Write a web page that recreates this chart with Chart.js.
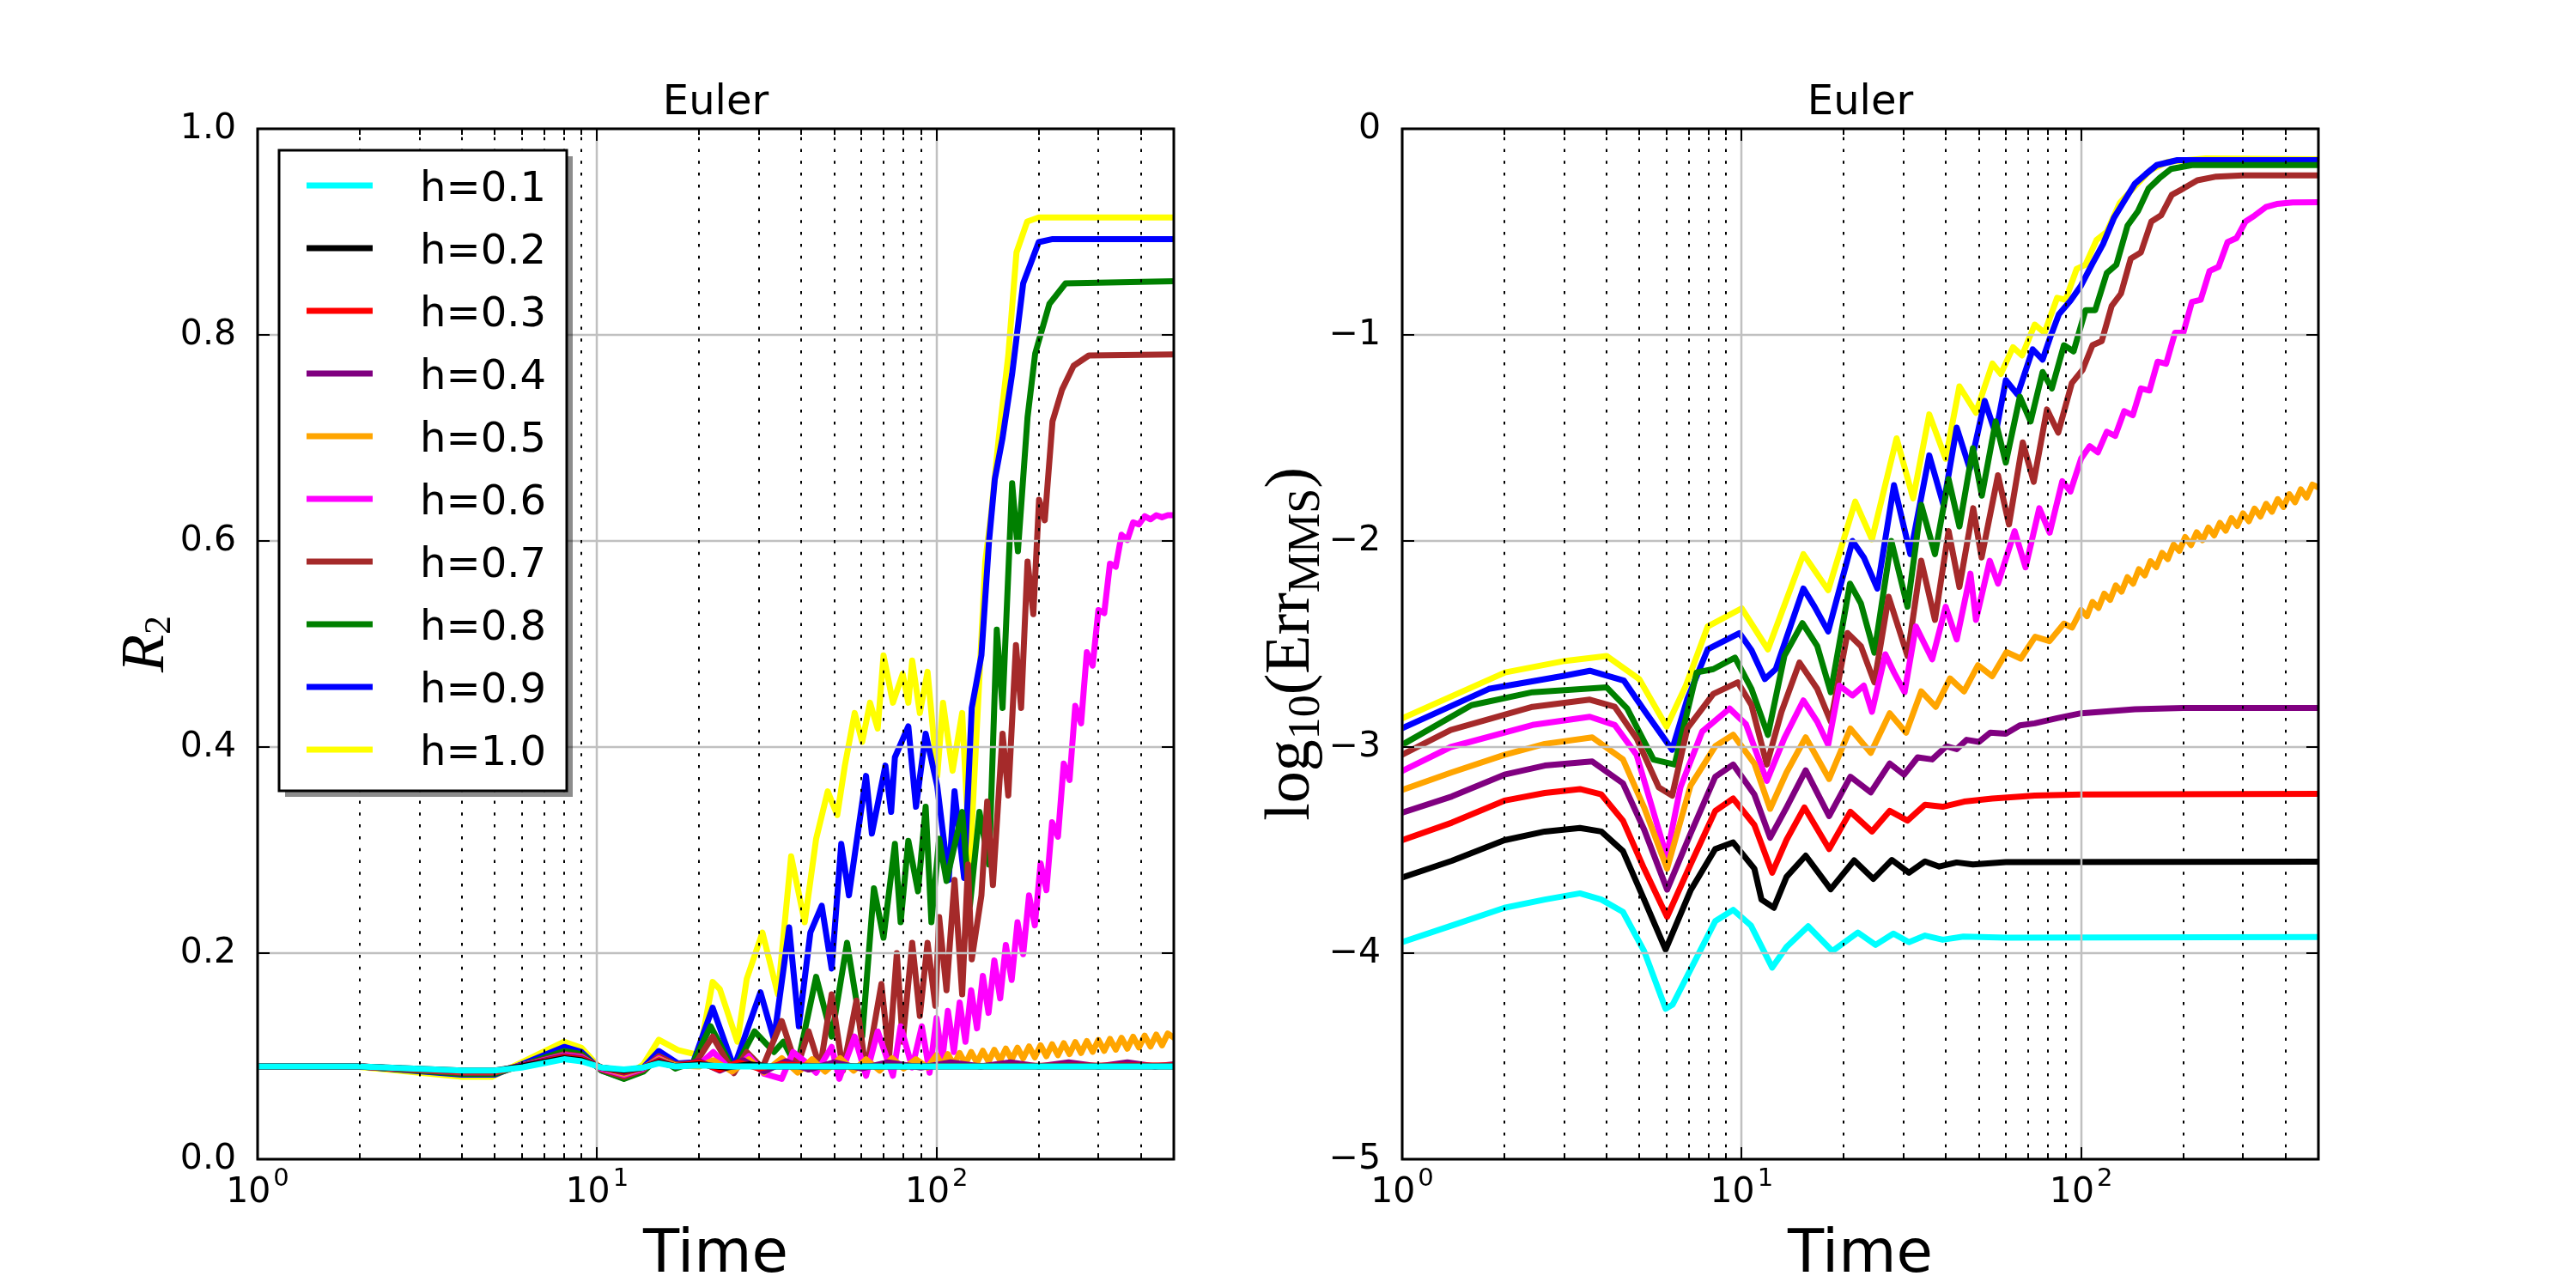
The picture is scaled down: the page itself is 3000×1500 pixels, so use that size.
<!DOCTYPE html>
<html>
<head>
<meta charset="utf-8">
<title>Euler</title>
<script src="https://cdn.jsdelivr.net/npm/chart.js@4.4.1/dist/chart.umd.min.js"></script>
<style>
  html, body { margin: 0; padding: 0; background: #fff; }
  #page { position: relative; width: 3000px; height: 1500px; }
  #page canvas { position: absolute; top: 0; }
</style>
</head>
<body>
<div id="page">
  <canvas id="r2Chart" width="1420" height="1500" style="left:0"></canvas>
  <canvas id="errChart" width="1580" height="1500" style="left:1420px"></canvas>
</div>
<script>
// --- series names and colours ---
const seriesLabels = ['h=0.1', 'h=0.2', 'h=0.3', 'h=0.4', 'h=0.5', 'h=0.6', 'h=0.7', 'h=0.8', 'h=0.9', 'h=1.0'];
const seriesColors = ['#00ffff', '#000000', '#ff0000', '#800080', '#ffa500', '#ff00ff', '#a52a2a', '#008000', '#0000ff', '#ffff00'];

// --- time axis ticks ---
const timeMajor = [1, 10, 100];
const timeMajorExp = ['0', '1', '2'];
const timeMinor = [2, 3, 4, 5, 6, 7, 8, 9, 20, 30, 40, 50, 60, 70, 80, 90, 200, 300, 400];

// --- left panel: R2 ---
const r2Time_h01 = [1, 2, 4, 5, 6, 8, 9, 10.3, 12, 13.7, 15.2, 17, 20, 25, 40, 500];
const r2_h01 = [0.090, 0.090, 0.086, 0.086, 0.089, 0.097, 0.095, 0.089, 0.087, 0.089, 0.093, 0.090, 0.091, 0.090, 0.090, 0.090];

const r2Time_h02 = [1, 2, 4, 5, 6, 8, 9, 10.3, 12, 13.7, 15.2, 17, 20, 24, 28, 32, 500];
const r2_h02 = [0.090, 0.090, 0.086, 0.086, 0.090, 0.098, 0.096, 0.089, 0.086, 0.089, 0.094, 0.090, 0.092, 0.089, 0.092, 0.090, 0.090];

const r2Time_h03 = [1, 2, 4, 5, 6, 8, 9, 10.3, 12, 13.7, 15.2, 17, 20, 23, 26, 30, 35, 45, 500];
const r2_h03 = [0.090, 0.090, 0.085, 0.085, 0.090, 0.099, 0.097, 0.089, 0.085, 0.089, 0.095, 0.090, 0.094, 0.087, 0.094, 0.088, 0.092, 0.090, 0.091];

const r2Time_h04 = [1, 2, 4, 5, 6, 8, 9, 10.3, 12, 13.7, 15.2, 17, 20, 23, 27, 31, 36, 42, 50, 60, 72, 90, 110, 135, 165, 200, 245, 300, 365, 440, 500];
const r2_h04 = [0.090, 0.090, 0.085, 0.085, 0.091, 0.100, 0.098, 0.089, 0.084, 0.089, 0.096, 0.090, 0.095, 0.086, 0.096, 0.085, 0.095, 0.087, 0.094, 0.088, 0.094, 0.089, 0.094, 0.090, 0.094, 0.090, 0.094, 0.090, 0.094, 0.090, 0.092];

const r2Time_h05 = [1, 2, 4, 5, 6, 8, 9, 10.3, 12, 13.7, 15.2, 17, 20, 22, 25, 28, 31, 35, 39, 43, 47, 52, 57, 62, 68, 74, 80, 87, 94,
  100, 104, 108, 112.5, 117, 121.7, 126.5, 131.6, 136.9, 142.3, 148, 154, 160, 166.5, 173.2, 180, 187.3, 194.8, 202.6, 210.7,
  219, 227.9, 237, 246.5, 256.3, 266.6, 277.2, 288.3, 299.9, 311.9, 324.3, 337.3, 350.8, 364.8, 379.4, 394.6, 410.4, 426.8, 443.8, 461.6, 480, 500];
const r2_h05 = [0.090, 0.090, 0.085, 0.085, 0.091, 0.100, 0.098, 0.089, 0.083, 0.089, 0.097, 0.091, 0.090, 0.096, 0.085, 0.097, 0.084, 0.098, 0.084, 0.097, 0.085, 0.098, 0.086, 0.097, 0.086, 0.098, 0.088, 0.097, 0.089,
  0.101, 0.0905, 0.102, 0.0916, 0.1031, 0.0926, 0.1041, 0.0937, 0.1052, 0.0947, 0.1062, 0.0958, 0.1073, 0.0968, 0.1083, 0.0979, 0.1094, 0.0989, 0.1105, 0.1000,
  0.1115, 0.1010, 0.1125, 0.1021, 0.1136, 0.1031, 0.1146, 0.1042, 0.1157, 0.1052, 0.1167, 0.1063, 0.1178, 0.1073, 0.1188, 0.1084, 0.1199, 0.1094, 0.1209, 0.1105, 0.1220, 0.1180];

const r2Time_h06 = [1, 2, 4, 5, 6, 8, 9, 10.3, 12, 13.7, 15.2, 17, 20, 22, 25, 28, 31, 35, 37.8, 40.9, 44.2, 49.1, 51.7, 57.4, 62, 67.1, 74.4, 78.4, 84.8, 90.5, 95.4,
  100, 104, 108, 112.5, 117, 121.7, 126.5, 131.6, 136.9, 142.3, 148, 154, 160, 166.5, 173.2, 180, 187.3, 194.8, 202.6, 210.7,
  219, 227.9, 237, 246.5, 256.3, 266.6, 277.2, 288.3, 299.9, 311.9, 324.3, 337.3, 350.8, 364.8, 379.4, 394.6, 410.4, 426.8, 443.8, 461.6, 480, 500];
const r2_h06 = [0.090, 0.090, 0.085, 0.085, 0.091, 0.101, 0.099, 0.088, 0.082, 0.088, 0.098, 0.090, 0.092, 0.104, 0.085, 0.100, 0.083, 0.078, 0.104, 0.095, 0.084, 0.109, 0.078, 0.119, 0.081, 0.124, 0.081, 0.129, 0.089, 0.129, 0.084,
  0.137, 0.096, 0.144, 0.104, 0.152, 0.114, 0.164, 0.127, 0.178, 0.142, 0.193, 0.156, 0.208, 0.174, 0.230, 0.199, 0.256, 0.227, 0.287, 0.261,
  0.327, 0.313, 0.384, 0.368, 0.440, 0.423, 0.492, 0.479, 0.533, 0.530, 0.578, 0.575, 0.606, 0.601, 0.618, 0.616, 0.624, 0.621, 0.625, 0.623, 0.625, 0.625];

const r2Time_h07 = [1, 2, 4, 5, 6, 8, 9, 10.3, 12, 13.7, 15.2, 17, 19.5, 21.9, 25.3, 27.6, 30.7, 35, 38.8, 42, 45.4, 49.1, 53, 58.1, 62, 68.8, 72.5, 76.4, 79.5, 84.8,
  89.3, 94.1, 99.2, 101.8, 107, 113, 119, 123.8, 127, 135.6, 141, 146.6, 156.5, 162.7, 171.4, 177.5, 185.4, 192.8, 200.5, 208.4, 219.6, 234.4, 253.4, 281, 500];
const r2_h07 = [0.090, 0.090, 0.084, 0.084, 0.091, 0.102, 0.100, 0.087, 0.080, 0.087, 0.100, 0.092, 0.093, 0.119, 0.0835, 0.104, 0.0886, 0.134, 0.0886, 0.124, 0.0886, 0.160, 0.086, 0.154, 0.084, 0.170, 0.099, 0.200, 0.114, 0.210,
  0.139, 0.210, 0.149, 0.235, 0.164, 0.271, 0.160, 0.286, 0.194, 0.256, 0.347, 0.266, 0.413, 0.353, 0.499, 0.438, 0.580, 0.529, 0.640, 0.620, 0.716, 0.747, 0.770, 0.780, 0.781];

const r2Time_h08 = [1, 2, 4, 5, 6, 8, 9, 10.3, 12, 13.7, 15.2, 17, 19.2, 21.6, 25.3, 29.1, 33.2, 35.4, 38.8, 44.2, 49.1, 54.5, 60.4, 65.4, 69.8, 75.4, 78.4, 82.6, 88.2, 92.9,
  96.6, 101.8, 107, 119, 125.4, 133.8, 142.8, 150.5, 156.5, 167, 173.7, 185.4, 195.3, 215, 240, 500];
const r2_h08 = [0.090, 0.090, 0.083, 0.083, 0.091, 0.105, 0.102, 0.086, 0.078, 0.085, 0.099, 0.088, 0.094, 0.129, 0.086, 0.124, 0.104, 0.114, 0.089, 0.177, 0.119, 0.210, 0.119, 0.263, 0.215, 0.306, 0.230, 0.309, 0.260, 0.342,
  0.230, 0.311, 0.270, 0.337, 0.246, 0.337, 0.286, 0.514, 0.438, 0.656, 0.590, 0.720, 0.782, 0.830, 0.850, 0.852];

const r2Time_h09 = [1, 2, 4, 5, 6, 8, 9, 10.3, 12, 13.7, 15.2, 17.3, 19.2, 21.9, 25.3, 30.3, 33.2, 36.8, 39.3, 42.5, 45.9, 49.1, 52.4, 55.2, 62, 64.5, 70.7, 73.5, 75.4, 82.6,
  87, 92.9, 100.5, 108.6, 113, 120.6, 127, 135.6, 142.8, 148.5, 156.5, 167, 180, 200, 220, 500];
const r2_h09 = [0.090, 0.090, 0.082, 0.082, 0.092, 0.109, 0.104, 0.086, 0.0785, 0.089, 0.105, 0.093, 0.094, 0.147, 0.089, 0.162, 0.116, 0.225, 0.129, 0.220, 0.246, 0.185, 0.306, 0.256, 0.372, 0.316, 0.382, 0.337, 0.390, 0.420,
  0.342, 0.413, 0.362, 0.271, 0.357, 0.273, 0.438, 0.489, 0.600, 0.660, 0.700, 0.762, 0.850, 0.890, 0.893, 0.893];

const r2Time_h10 = [1, 1.93, 4, 4.9, 6, 8, 9, 10.3, 12.1, 13.7, 15.2, 17.3, 20, 21.9, 23, 25.9, 27.6, 30.7, 34.1, 37.3, 40.9, 44.2, 47.8, 51, 53.7, 57.4, 60.4, 63.7, 67.1, 69.8,
  74.4, 79.5, 82.6, 84.8, 89.3, 94.1, 100.5, 104.5, 111.5, 119, 125.4, 133.8, 139.2, 144.7, 152.5, 162.7, 172, 185, 200, 500];
const r2_h10 = [0.090, 0.090, 0.080, 0.080, 0.094, 0.114, 0.108, 0.087, 0.080, 0.092, 0.116, 0.106, 0.101, 0.172, 0.165, 0.114, 0.175, 0.220, 0.160, 0.294, 0.230, 0.311, 0.357, 0.334, 0.382, 0.433, 0.405, 0.443, 0.418, 0.489,
  0.443, 0.471, 0.443, 0.484, 0.433, 0.473, 0.372, 0.443, 0.377, 0.433, 0.286, 0.468, 0.580, 0.625, 0.700, 0.780, 0.880, 0.910, 0.914, 0.914];

// --- right panel: log10(Err_MMS) ---
const errTime_h01 = [1, 1.4, 2, 2.63, 3.34, 3.86, 4.47, 5.16, 5.97, 6.26, 7.07, 8.36, 9.44, 10.65, 12.3, 13.56, 15.7, 18.5, 22, 24.8, 28, 31.1, 34.7, 39.1, 45, 60, 500];
const err_h01 = [-3.947, -3.866, -3.78, -3.74, -3.71, -3.74, -3.80, -3.99, -4.27, -4.25, -4.08, -3.845, -3.79, -3.866, -4.07, -3.97, -3.87, -3.99, -3.90, -3.96, -3.905, -3.947, -3.915, -3.935, -3.92, -3.925, -3.922];

const errTime_h02 = [1, 1.4, 2, 2.63, 3.34, 3.86, 4.47, 5.16, 5.97, 7.07, 8.36, 9.44, 10.9, 11.44, 12.44, 13.56, 15.44, 18.29, 21.45, 24.42, 27.7, 31.1, 34.7, 38.2, 43, 48, 60, 500];
const err_h02 = [-3.633, -3.552, -3.452, -3.41, -3.393, -3.41, -3.505, -3.74, -3.983, -3.696, -3.495, -3.463, -3.59, -3.74, -3.78, -3.63, -3.527, -3.69, -3.55, -3.64, -3.548, -3.61, -3.555, -3.58, -3.56, -3.57, -3.558, -3.556];

const errTime_h03 = [1, 1.4, 2, 2.63, 3.34, 3.86, 4.47, 5.16, 6.03, 7.07, 8.36, 9.44, 10.9, 12.3, 13.56, 15.3, 18.1, 20.9, 24.2, 27.3, 30.8, 34.7, 39.1, 45.2, 54.7, 73, 100, 500];
const err_h03 = [-3.452, -3.367, -3.26, -3.223, -3.204, -3.23, -3.357, -3.59, -3.824, -3.57, -3.31, -3.25, -3.378, -3.61, -3.45, -3.293, -3.495, -3.314, -3.41, -3.31, -3.357, -3.28, -3.29, -3.265, -3.25, -3.235, -3.23, -3.227];

const errTime_h04 = [1, 1.4, 2, 2.63, 3.63, 4.47, 5.16, 6.03, 7.07, 8.36, 9.44, 10.9, 12.13, 13.56, 15.44, 18.1, 20.9, 24, 27.3, 30.1, 33, 36.4, 40.1, 43, 46, 50, 54, 60, 66, 73, 85, 100, 144, 200, 500];
const err_h04 = [-3.318, -3.24, -3.134, -3.09, -3.07, -3.176, -3.40, -3.692, -3.42, -3.144, -3.085, -3.23, -3.44, -3.293, -3.113, -3.335, -3.144, -3.22, -3.08, -3.134, -3.05, -3.06, -2.996, -3.01, -2.965, -2.975, -2.93, -2.935, -2.895, -2.885, -2.86, -2.836, -2.817, -2.81, -2.81];

const errTime_h05 = [1, 1.4, 2, 2.63, 3.63, 4.47, 5.16, 6.03, 7.07, 8.36, 9.44, 10.9, 12.13, 13.56, 15.44, 18.1, 20.9, 24, 27.3, 30.5, 33.8, 37.3, 41.1, 45.2, 49.7, 54.7, 60.3, 66.4, 73.2, 80.7, 89, 94,
  100, 104, 108, 112.5, 117, 121.7, 126.5, 131.6, 136.9, 142.3, 148, 154, 160, 166.5, 173.2, 180, 187.3, 194.8, 202.6, 210.7,
  219, 227.9, 237, 246.5, 256.3, 266.6, 277.2, 288.3, 299.9, 311.9, 324.3, 337.3, 350.8, 364.8, 379.4, 394.6, 410.4, 426.8, 443.8, 461.6, 480, 500];
const err_h05 = [-3.208, -3.123, -3.038, -2.985, -2.953, -3.06, -3.293, -3.59, -3.187, -2.996, -2.94, -3.08, -3.30, -3.123, -2.953, -3.155, -2.91, -3.028, -2.836, -2.93, -2.73, -2.805, -2.667, -2.73, -2.603, -2.656, -2.539, -2.571, -2.465, -2.486, -2.401, -2.42,
  -2.335, -2.365, -2.296, -2.325, -2.256, -2.286, -2.216, -2.246, -2.176, -2.207, -2.137, -2.167, -2.098, -2.127, -2.058, -2.088, -2.018, -2.048, -1.981, -2.020,
  -1.958, -1.996, -1.935, -1.973, -1.912, -1.950, -1.889, -1.927, -1.866, -1.904, -1.843, -1.881, -1.820, -1.858, -1.797, -1.835, -1.773, -1.812, -1.750, -1.789, -1.727, -1.740];

const errTime_h06 = [1, 1.39, 2.42, 3.57, 4.23, 4.9, 6.01, 6.6, 7.65, 9.21, 10.3, 11.86, 13.36, 15.2, 16.7, 17.98, 19.4, 21.2, 22.9, 24.2, 26.5, 28.1, 30.2, 32.6, 36.4, 39.9, 43, 47.2, 49, 53.8,
  56.9, 63.7, 68.6, 75.3, 80.8, 88, 93, 100, 106, 112, 119, 126, 134, 142, 150, 159, 168, 178, 189, 200, 212, 225, 239, 254, 270, 287, 305, 325, 350, 377, 420, 500];
const err_h06 = [-3.116, -3.0, -2.893, -2.853, -2.893, -3.037, -3.531, -3.196, -2.925, -2.813, -2.89, -3.164, -2.957, -2.774, -2.877, -2.989, -2.702, -2.75, -2.702, -2.829, -2.55, -2.638, -2.734, -2.415, -2.574, -2.319, -2.478, -2.159, -2.383, -2.096,
  -2.207, -1.952, -2.128, -1.841, -1.96, -1.71, -1.76, -1.60, -1.54, -1.57, -1.47, -1.49, -1.37, -1.39, -1.26, -1.27, -1.13, -1.14, -0.99, -0.99, -0.84, -0.83, -0.69, -0.67, -0.55, -0.53, -0.45, -0.42, -0.38, -0.365, -0.357, -0.356];

const errTime_h07 = [1, 1.39, 2.42, 3.57, 4.23, 4.9, 5.7, 6.24, 6.92, 8.25, 9.74, 10.69, 11.86, 13.1, 14.8, 16.7, 18.3, 20.5, 22.45, 24.6, 27.1, 30.8, 33.8, 37.1, 40.7, 43.8, 48.1, 50.9, 56.9, 61.3,
  67.3, 72.5, 79.3, 85.6, 93.9, 101, 108, 115, 123, 131, 140, 150, 161, 172, 185, 200, 220, 250, 300, 500];
const err_h07 = [-3.037, -2.917, -2.805, -2.77, -2.805, -2.957, -3.196, -3.236, -2.909, -2.742, -2.686, -2.797, -3.085, -2.829, -2.59, -2.718, -2.877, -2.447, -2.51, -2.686, -2.271, -2.558, -2.096, -2.383, -1.952, -2.223, -1.841, -2.08, -1.681, -1.92,
  -1.522, -1.713, -1.362, -1.474, -1.234, -1.17, -1.05, -1.03, -0.86, -0.80, -0.63, -0.60, -0.45, -0.42, -0.32, -0.29, -0.25, -0.232, -0.226, -0.226];

const errTime_h08 = [1, 1.6, 2.42, 4.0, 4.6, 5.5, 6.35, 7.37, 8.25, 9.56, 10.69, 11.95, 13.36, 15.1, 16.7, 18.3, 20.85, 22.45, 24.6, 27.6, 30.8, 33.8, 37.1, 40.7, 43.8, 48, 51, 56, 60, 66,
  71, 77, 82, 89, 95, 103, 110, 119, 127, 137, 147, 158, 170, 184, 212, 500];
const err_h08 = [-2.989, -2.797, -2.734, -2.71, -2.813, -3.061, -3.085, -2.638, -2.622, -2.566, -2.718, -2.941, -2.558, -2.399, -2.51, -2.734, -2.207, -2.303, -2.542, -2.0, -2.319, -1.825, -2.064, -1.70, -1.93, -1.55, -1.78, -1.42, -1.62, -1.30,
  -1.42, -1.18, -1.26, -1.05, -1.08, -0.88, -0.88, -0.70, -0.66, -0.47, -0.40, -0.29, -0.24, -0.195, -0.176, -0.176];

const errTime_h09 = [1, 1.8, 3.0, 3.57, 4.5, 5.2, 6.24, 6.92, 7.94, 9.85, 10.69, 11.7, 12.6, 15.2, 16.4, 17.98, 21.2, 22.9, 25.1, 28.1, 31.4, 35.7, 39.3, 43, 47, 52, 56, 60, 65, 72,
  77, 81, 86, 93, 100, 108, 116, 125, 134, 144, 155, 167, 192, 500];
const err_h09 = [-2.909, -2.718, -2.654, -2.63, -2.678, -2.829, -3.013, -2.766, -2.526, -2.447, -2.53, -2.67, -2.622, -2.231, -2.319, -2.439, -2.0, -2.08, -2.231, -1.729, -2.064, -1.585, -1.825, -1.45, -1.65, -1.32, -1.48, -1.22, -1.29, -1.07,
  -1.12, -1.014, -0.90, -0.834, -0.76, -0.654, -0.56, -0.432, -0.35, -0.266, -0.22, -0.176, -0.152, -0.152];

const errTime_h10 = [1, 2.01, 3.02, 4.0, 4.99, 6.01, 6.85, 7.94, 10, 11.95, 13.1, 15.2, 17.98, 21.6, 24.2, 28.6, 32, 35.7, 39.9, 43.8, 49, 54.8, 58, 63, 67, 73, 78, 85, 90, 97,
  103, 111, 119, 130, 144, 160, 180, 233, 500];
const err_h10 = [-2.861, -2.638, -2.582, -2.558, -2.67, -2.901, -2.702, -2.415, -2.327, -2.526, -2.35, -2.064, -2.239, -1.809, -1.992, -1.502, -1.793, -1.386, -1.601, -1.25, -1.378, -1.139, -1.19, -1.06, -1.10, -0.95, -0.99, -0.82, -0.83, -0.68,
  -0.66, -0.54, -0.50, -0.36, -0.28, -0.20, -0.16, -0.144, -0.148];

const r2Series = [
  [r2Time_h01, r2_h01], [r2Time_h02, r2_h02], [r2Time_h03, r2_h03], [r2Time_h04, r2_h04], [r2Time_h05, r2_h05],
  [r2Time_h06, r2_h06], [r2Time_h07, r2_h07], [r2Time_h08, r2_h08], [r2Time_h09, r2_h09], [r2Time_h10, r2_h10]
];
const errSeries = [
  [errTime_h01, err_h01], [errTime_h02, err_h02], [errTime_h03, err_h03], [errTime_h04, err_h04], [errTime_h05, err_h05],
  [errTime_h06, err_h06], [errTime_h07, err_h07], [errTime_h08, err_h08], [errTime_h09, err_h09], [errTime_h10, err_h10]
];

const SANS = '"DejaVu Sans", sans-serif';
const SERIF = '"Liberation Serif", serif';
const LINE_W = 7;

const buildDatasets = series => series.map(([times, values], i) => ({
  label: seriesLabels[i],
  data: times.map((t, k) => ({ x: t, y: values[k] })),
  borderColor: seriesColors[i],
  backgroundColor: seriesColors[i],
  borderWidth: LINE_W,
  pointRadius: 0,
  tension: 0,
  fill: false,
  borderJoinStyle: 'round',
  borderCapStyle: 'round'
}));

// --- grid, ticks and frame, matplotlib classic look ---
const frameGrid = {
  id: 'frameGrid',
  afterDatasetsDraw(chart) {
    const { ctx, chartArea: a, scales: { x, y } } = chart;
    ctx.save();
    ctx.strokeStyle = '#c0c0c0';
    ctx.lineWidth = 2.5;
    ctx.beginPath();
    y.ticks.forEach(tk => {
      const py = Math.round(y.getPixelForValue(tk.value));
      ctx.moveTo(a.left, py); ctx.lineTo(a.right, py);
    });
    timeMajor.forEach(t => {
      const px = Math.round(x.getPixelForValue(t));
      ctx.moveTo(px, a.top); ctx.lineTo(px, a.bottom);
    });
    ctx.stroke();

    ctx.strokeStyle = '#000';
    ctx.lineWidth = 2;
    ctx.setLineDash([3.5, 10.3]);
    ctx.beginPath();
    timeMinor.forEach(t => {
      const px = Math.round(x.getPixelForValue(t));
      ctx.moveTo(px, a.bottom); ctx.lineTo(px, a.top);
    });
    ctx.stroke();
    ctx.setLineDash([]);

    ctx.lineWidth = 2;
    ctx.beginPath();
    y.ticks.forEach(tk => {
      const py = Math.round(y.getPixelForValue(tk.value));
      ctx.moveTo(a.left, py); ctx.lineTo(a.left + 14, py);
      ctx.moveTo(a.right, py); ctx.lineTo(a.right - 14, py);
    });
    timeMajor.forEach(t => {
      const px = Math.round(x.getPixelForValue(t));
      ctx.moveTo(px, a.bottom); ctx.lineTo(px, a.bottom - 14);
      ctx.moveTo(px, a.top); ctx.lineTo(px, a.top + 14);
    });
    timeMinor.forEach(t => {
      const px = Math.round(x.getPixelForValue(t));
      ctx.moveTo(px, a.bottom); ctx.lineTo(px, a.bottom - 7);
      ctx.moveTo(px, a.top); ctx.lineTo(px, a.top + 7);
    });
    ctx.stroke();

    ctx.lineWidth = 3;
    ctx.strokeRect(a.left, a.top, a.right - a.left, a.bottom - a.top);
    ctx.restore();
  }
};

// --- titles, axis labels, x tick labels, legend ---
const panelText = {
  id: 'panelText',
  afterDraw(chart, args, opts) {
    const { ctx, chartArea: a, scales: { x } } = chart;
    const cx = (a.left + a.right) / 2;
    const cy = (a.top + a.bottom) / 2;
    ctx.save();
    ctx.fillStyle = '#000';
    ctx.textBaseline = 'alphabetic';

    // title
    ctx.textAlign = 'center';
    ctx.font = '48px ' + SANS;
    ctx.fillText('Euler', cx, 133);

    // x label
    ctx.font = '69px ' + SANS;
    ctx.fillText('Time', cx, 1481);

    // x tick labels 10^n
    ctx.textAlign = 'left';
    timeMajor.forEach((t, i) => {
      const px = x.getPixelForValue(t);
      ctx.font = '41px ' + SANS;
      const w1 = ctx.measureText('10').width;
      ctx.font = '29px ' + SANS;
      const w2 = ctx.measureText(timeMajorExp[i]).width;
      const left = px - (w1 + w2 + 3) / 2;
      ctx.font = '41px ' + SANS;
      ctx.fillText('10', left, 1400);
      ctx.font = '29px ' + SANS;
      ctx.fillText(timeMajorExp[i], left + w1 + 3, 1381);
    });

    // y label, rotated, with subscripts
    const parts = opts.ylabel;
    ctx.save();
    ctx.translate(opts.ylabelX, cy);
    ctx.rotate(-Math.PI / 2);
    let total = 0;
    parts.forEach(p => { ctx.font = p.font; total += ctx.measureText(p.text).width; });
    let pos = -total / 2;
    parts.forEach(p => {
      ctx.font = p.font;
      ctx.fillText(p.text, pos, p.shift);
      pos += ctx.measureText(p.text).width;
    });
    ctx.restore();

    // legend
    if (opts.legend) {
      const lx = 325, ly = 175, lw = 335, lh = 746;
      ctx.fillStyle = 'rgba(0,0,0,0.45)';
      ctx.fillRect(lx + 7, ly + 7, lw, lh);
      ctx.fillStyle = '#fff';
      ctx.fillRect(lx, ly, lw, lh);
      ctx.strokeStyle = '#000';
      ctx.lineWidth = 3;
      ctx.strokeRect(lx, ly, lw, lh);
      ctx.font = '48px ' + SANS;
      ctx.textAlign = 'left';
      seriesLabels.forEach((label, i) => {
        const ey = 216 + 73 * i;
        ctx.strokeStyle = seriesColors[i];
        ctx.lineWidth = LINE_W;
        ctx.beginPath();
        ctx.moveTo(357, ey); ctx.lineTo(434, ey);
        ctx.stroke();
        ctx.fillStyle = '#000';
        ctx.fillText(label, 489, ey + 17.5);
      });
    }
    ctx.restore();
  }
};

function makeChart(canvas, series, yScale, padRight, yWidth, textOpts) {
  return new Chart(canvas, {
    type: 'line',
    data: { datasets: buildDatasets(series) },
    options: {
      responsive: false,
      devicePixelRatio: 1,
      animation: false,
      events: [],
      layout: { padding: { left: 0, right: padRight, top: 150, bottom: 0 } },
      plugins: {
        legend: { display: false },
        title: { display: false },
        tooltip: { enabled: false },
        panelText: textOpts
      },
      scales: {
        x: {
          type: 'logarithmic',
          min: 1,
          max: 500,
          ticks: { display: false },
          grid: { display: false },
          border: { display: false },
          afterFit: s => { s.height = 150; }
        },
        y: Object.assign({
          grid: { display: false },
          border: { display: false },
          afterFit: s => { s.width = yWidth; }
        }, yScale)
      }
    },
    plugins: [frameGrid, panelText]
  });
}

makeChart(document.getElementById('r2Chart'), r2Series, {
  min: 0,
  max: 1,
  ticks: {
    stepSize: 0.2,
    color: '#000',
    padding: 17,
    font: { family: 'DejaVu Sans', size: 41 },
    callback: v => v.toFixed(1)
  }
}, 53, 300, {
  legend: true,
  ylabelX: 190,
  ylabel: [
    { text: 'R', font: 'italic 72px ' + SERIF, shift: 0 },
    { text: '2', font: '44px ' + SERIF, shift: 8 }
  ]
});

makeChart(document.getElementById('errChart'), errSeries, {
  min: -5,
  max: 0,
  ticks: {
    stepSize: 1,
    color: '#000',
    padding: 17,
    font: { family: 'DejaVu Sans', size: 41 },
    callback: v => (v < 0 ? '\u2212' : '') + Math.abs(v)
  }
}, 300, 213, {
  legend: false,
  ylabelX: 104,
  ylabel: [
    { text: 'log', font: '74px ' + SERIF, shift: 0 },
    { text: '10', font: '52px ' + SERIF, shift: 12 },
    { text: '(Err', font: '74px ' + SERIF, shift: 0 },
    { text: 'MMS', font: '52px ' + SERIF, shift: 12 },
    { text: ')', font: '74px ' + SERIF, shift: 0 }
  ]
});
</script>
</body>
</html>
